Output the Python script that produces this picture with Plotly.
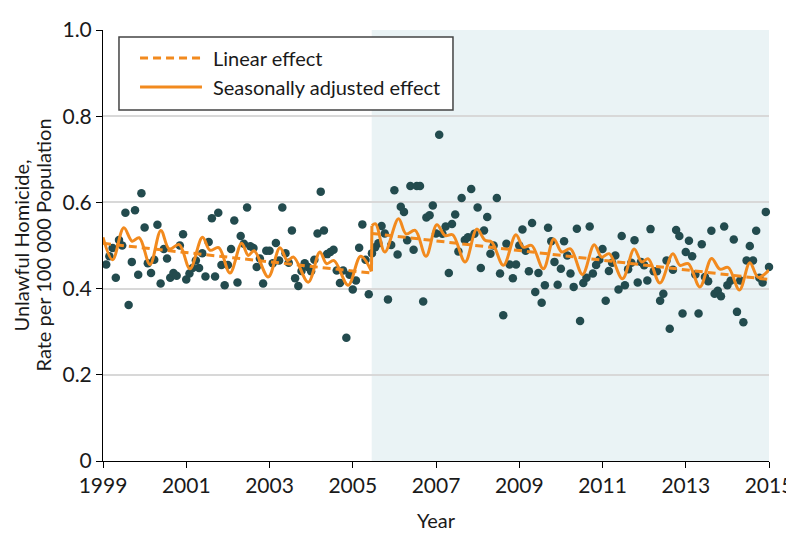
import plotly.graph_objects as go

# ---------------- data ----------------
PERIODS_PER_YEAR = 13          # 4-week reporting periods
START_YEAR = 1999
INTERVENTION = 2005.455        # start of shaded (post) period

rate_1999_2001 = [0.456, 0.475, 0.494, 0.425, 0.513, 0.500, 0.576, 0.362, 0.462, 0.582,
                  0.432, 0.621, 0.542, 0.459, 0.436, 0.467, 0.548, 0.412, 0.492, 0.470,
                  0.425, 0.436, 0.430, 0.500, 0.526, 0.421, 0.435, 0.448, 0.465, 0.448,
                  0.482, 0.428, 0.508, 0.563]
rate_2001_2004 = [0.428, 0.576, 0.455, 0.408, 0.455, 0.492, 0.558, 0.414, 0.522, 0.504,
                  0.588, 0.498, 0.494, 0.450, 0.470, 0.412, 0.488, 0.488, 0.459, 0.506,
                  0.465, 0.588, 0.482, 0.460, 0.535, 0.424, 0.406, 0.441, 0.459, 0.450,
                  0.440, 0.467, 0.528, 0.625, 0.535, 0.480]
rate_2004_2006 = [0.485, 0.490, 0.442, 0.413, 0.442, 0.286, 0.432, 0.398, 0.419, 0.495,
                  0.549, 0.467, 0.387, 0.482, 0.496, 0.505, 0.545, 0.528, 0.375, 0.501,
                  0.628, 0.479, 0.590, 0.578, 0.512, 0.638, 0.490, 0.638, 0.638, 0.370,
                  0.565, 0.570, 0.593]
rate_2007_2009 = [0.528, 0.757, 0.527, 0.544, 0.436, 0.550, 0.572, 0.486, 0.610, 0.513,
                  0.519, 0.631, 0.527, 0.588, 0.448, 0.535, 0.566, 0.481, 0.500, 0.610,
                  0.435, 0.338, 0.504, 0.456, 0.424, 0.456, 0.500, 0.537, 0.488, 0.440,
                  0.552, 0.392, 0.436, 0.367, 0.408, 0.541]
rate_2009_2012 = [0.510, 0.462, 0.409, 0.446, 0.510, 0.477, 0.435, 0.404, 0.539, 0.325,
                  0.413, 0.425, 0.544, 0.435, 0.455, 0.467, 0.492, 0.372, 0.441, 0.460,
                  0.477, 0.398, 0.522, 0.408, 0.445, 0.460, 0.512, 0.414, 0.462, 0.454,
                  0.419, 0.538, 0.440]
rate_2012_2015 = [0.440, 0.372, 0.388, 0.465, 0.307, 0.444, 0.536, 0.522, 0.342, 0.485,
                  0.511, 0.475, 0.433, 0.342, 0.503, 0.427, 0.417, 0.534, 0.388, 0.395,
                  0.382, 0.544, 0.408, 0.418, 0.514, 0.346, 0.419, 0.322, 0.465, 0.499,
                  0.465, 0.534, 0.425, 0.414, 0.578, 0.450]

# linear (segmented) effect, end points
linear_pre_years = [1999.0, 2005.45]
linear_pre_vals = [0.505, 0.436]
linear_post_years = [2005.46, 2015.0]
linear_post_vals = [0.528, 0.421]

# seasonally adjusted effect, read at turning points
seasonal_pre_years = [1999.00, 1999.23, 1999.50, 1999.70, 1999.87, 2000.13, 2000.39, 2000.59,
                      2000.83, 2001.09, 2001.39, 2001.57, 2001.78, 2002.05, 2002.33, 2002.49,
                      2002.63, 2002.97, 2003.25, 2003.43, 2003.58, 2003.93, 2004.21, 2004.37,
                      2004.55, 2004.89, 2005.19, 2005.45]
seasonal_pre_vals = [0.519, 0.467, 0.541, 0.510, 0.518, 0.456, 0.535, 0.492,
                     0.502, 0.446, 0.519, 0.489, 0.495, 0.436, 0.505, 0.477,
                     0.488, 0.427, 0.495, 0.465, 0.473, 0.415, 0.485, 0.458,
                     0.465, 0.408, 0.475, 0.440]
seasonal_post_years = [2005.46, 2005.55, 2005.77, 2006.10, 2006.28, 2006.50, 2006.76, 2007.02,
                       2007.22, 2007.40, 2007.70, 2007.98, 2008.18, 2008.34, 2008.62, 2008.92,
                       2009.10, 2009.30, 2009.58, 2009.83, 2010.02, 2010.23, 2010.52, 2010.80,
                       2010.98, 2011.16, 2011.48, 2011.76, 2011.94, 2012.10, 2012.38, 2012.69,
                       2012.86, 2013.06, 2013.34, 2013.62, 2013.82, 2014.02, 2014.29, 2014.54,
                       2014.74, 2015.00]
seasonal_post_vals = [0.546, 0.550, 0.485, 0.562, 0.527, 0.535, 0.475, 0.548,
                      0.523, 0.525, 0.462, 0.538, 0.512, 0.508, 0.454, 0.525,
                      0.496, 0.500, 0.446, 0.515, 0.485, 0.492, 0.433, 0.502,
                      0.473, 0.481, 0.423, 0.492, 0.462, 0.469, 0.413, 0.481,
                      0.454, 0.458, 0.404, 0.470, 0.445, 0.449, 0.397, 0.460,
                      0.426, 0.443]

x_ticks = [1999, 2001, 2003, 2005, 2007, 2009, 2011, 2013, 2015]
y_ticks = [0, 0.2, 0.4, 0.6, 0.8, 1.0]
y_tick_labels = ["0", "0.2", "0.4", "0.6", "0.8", "1.0"]
legend_labels = ["Linear effect", "Seasonally adjusted effect"]
y_title_lines = ["Unlawful Homicide,", "Rate per 100 000 Population"]
x_title = "Year"

# ---------------- build ----------------
rates = (rate_1999_2001 + rate_2001_2004 + rate_2004_2006 +
         rate_2007_2009 + rate_2009_2012 + rate_2012_2015)
period_years = [START_YEAR + (i + 1) / PERIODS_PER_YEAR for i in range(len(rates))]

ORANGE = "#f28a1e"
DOT = "#234b4e"
FONT = "Lato, 'Liberation Sans', Arial, sans-serif"
TXT = "#1a1a1a"
DASH = "8px,5px"

# figure geometry (page body has an 8 px margin)
FIG_W, FIG_H = 786, 530
M_L, M_R, M_T, M_B = 95, 25, 22, 77
PLOT_W = FIG_W - M_L - M_R
PLOT_H = FIG_H - M_T - M_B

fig = go.Figure()

fig.add_trace(go.Scatter(
    x=period_years, y=rates, mode="markers",
    marker=dict(size=8.5, color=DOT), showlegend=False, cliponaxis=False,
    hoverinfo="skip"))

fig.add_trace(go.Scatter(
    x=linear_pre_years + [None] + linear_post_years,
    y=linear_pre_vals + [None] + linear_post_vals,
    mode="lines", name=legend_labels[0], showlegend=False,
    line=dict(color=ORANGE, width=3, dash=DASH), connectgaps=False))

fig.add_trace(go.Scatter(
    x=seasonal_pre_years, y=seasonal_pre_vals, mode="lines",
    name=legend_labels[1], showlegend=False,
    line=dict(color=ORANGE, width=3, shape="spline", smoothing=1.0)))
fig.add_trace(go.Scatter(
    x=[seasonal_pre_years[-1], seasonal_post_years[0]],
    y=[seasonal_pre_vals[-1], seasonal_post_vals[0]], mode="lines",
    showlegend=False, line=dict(color=ORANGE, width=3)))
fig.add_trace(go.Scatter(
    x=seasonal_post_years, y=seasonal_post_vals, mode="lines",
    showlegend=False,
    line=dict(color=ORANGE, width=3, shape="spline", smoothing=1.0)))

# shaded post-intervention period
fig.add_shape(type="rect", xref="x", yref="y", x0=INTERVENTION, x1=2015, y0=0, y1=1,
              fillcolor="#eaf3f5", line_width=0, layer="below")

# hand-drawn legend box (domain coordinates of the plot area)
fig.add_shape(type="rect", xref="x domain", yref="y domain",
              x0=0.024, x1=0.5255, y0=0.8144, y1=0.9838,
              fillcolor="white", line=dict(color="#444", width=1.5), layer="above")
fig.add_shape(type="line", xref="x domain", yref="y domain",
              x0=0.0556, x1=0.1486, y0=0.935, y1=0.935,
              line=dict(color=ORANGE, width=3, dash=DASH), layer="above")
fig.add_shape(type="line", xref="x domain", yref="y domain",
              x0=0.0556, x1=0.1486, y0=0.8677, y1=0.8677,
              line=dict(color=ORANGE, width=3), layer="above")
for lbl, yy in zip(legend_labels, [0.935, 0.8677]):
    fig.add_annotation(xref="x domain", yref="y domain", x=0.1622, y=yy,
                       text=lbl, showarrow=False, xanchor="left", yanchor="middle",
                       font=dict(family=FONT, size=20, color=TXT))

# axis titles (figure pixel -> paper fraction)
for line_txt, px in zip(y_title_lines, [12, 34]):
    fig.add_annotation(xref="paper", yref="paper", x=(px - M_L) / PLOT_W, y=0.5,
                       text=line_txt, textangle=-90, showarrow=False,
                       xanchor="center", yanchor="middle",
                       font=dict(family=FONT, size=20, color=TXT))
fig.add_annotation(xref="paper", yref="paper", x=0.5, y=-59 / PLOT_H,
                   text=x_title, showarrow=False, xanchor="center", yanchor="middle",
                   font=dict(family=FONT, size=20, color=TXT))

fig.update_layout(
    width=FIG_W, height=FIG_H,
    margin=dict(l=M_L, r=M_R, t=M_T, b=M_B, autoexpand=False),
    paper_bgcolor="white", plot_bgcolor="white",
    font=dict(family=FONT, size=21, color=TXT),
    showlegend=False,
    xaxis=dict(range=[1999, 2015], tickvals=x_ticks, ticks="outside", ticklen=6,
               tickcolor="black", showline=True, linecolor="black", linewidth=1,
               showgrid=False, zeroline=False, automargin=False,
               tickfont=dict(size=21)),
    yaxis=dict(range=[0, 1.0], tickvals=y_ticks, ticktext=y_tick_labels,
               ticks="outside", ticklen=6, tickcolor="black",
               showline=True, linecolor="black", linewidth=1,
               showgrid=True, gridcolor="#d8d8d8", gridwidth=2, zeroline=False,
               automargin=False, tickfont=dict(size=21)),
)

fig.write_html("out.html")
